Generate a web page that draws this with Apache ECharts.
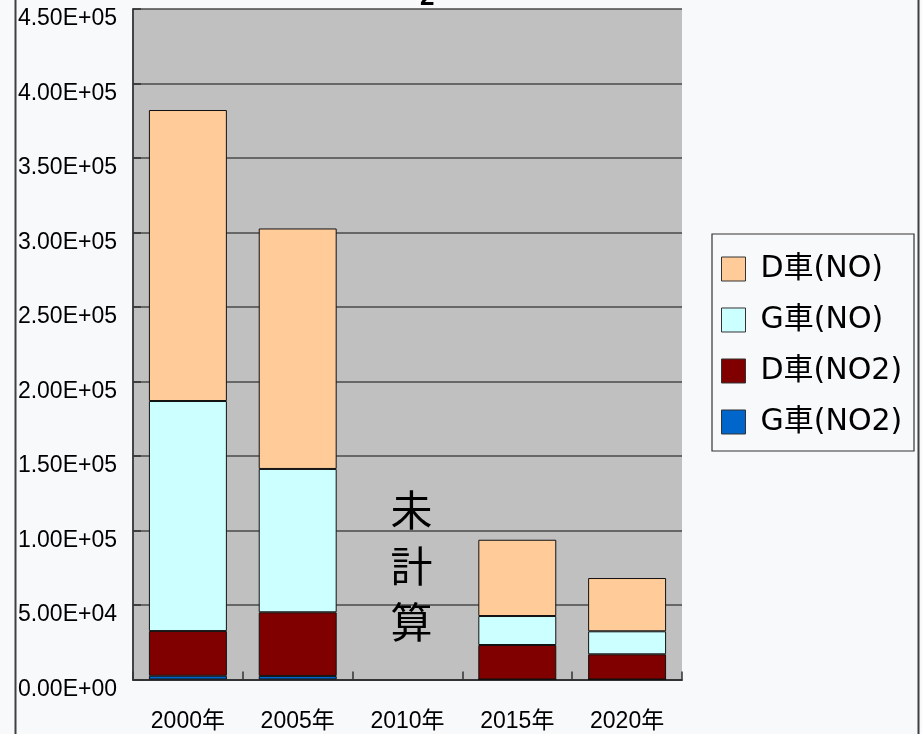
<!DOCTYPE html>
<html>
<head>
<meta charset="utf-8">
<script src="https://cdn.jsdelivr.net/npm/echarts@6/dist/echarts.min.js"></script>
<style>
  html, body { margin: 0; padding: 0; background: #f8f9fb; }
  #chart { width: 922px; height: 734px; }
</style>
</head>
<body>
<div id="chart"></div>
<script>
// Years on the category axis
const years = ['2000年', '2005年', '2010年', '2015年', '2020年'];

// Emissions per vehicle type and species (2010 not calculated)
const gNO2 = [2500, 2400, null, 0, 0];
const dNO2 = [30000, 42700, null, 23150, 16900];
const gNO = [154400, 96200, null, 19450, 15450];
const dNO = [195300, 161400, null, 51200, 35750];

const seriesNames = ['G車(NO2)', 'D車(NO2)', 'G車(NO)', 'D車(NO)'];
const seriesColors = ['#0066cc', '#800000', '#ccffff', '#ffcc99'];
const legendOrder = ['D車(NO)', 'G車(NO)', 'D車(NO2)', 'G車(NO2)'];

const noteText = '未\n計\n算';
const noteCategory = '2010年';
const noteValue = 76000;

const CJK = '"Noto Sans CJK JP", sans-serif';
const LATIN = '"Liberation Sans", ' + CJK;
const WIDE = '"DejaVu Sans", ' + CJK;

function sci(v) {
  if (v === 0) return '0.00E+00';
  const exp = Math.floor(Math.log10(Math.abs(v)));
  const mant = v / Math.pow(10, exp);
  const e = (exp < 0 ? '-' : '+') + String(Math.abs(exp)).padStart(2, '0');
  return mant.toFixed(2) + 'E' + e;
}

const values = [gNO2, dNO2, gNO, dNO];
const series = values.map((data, i) => ({
  name: seriesNames[i],
  type: 'bar',
  stack: 'total',
  data: data,
  barWidth: '71%',
  itemStyle: { color: seriesColors[i], borderColor: '#111', borderWidth: 1 },
  emphasis: { disabled: true }
}));

series[0].markPoint = {
  symbol: 'circle',
  symbolSize: 0,
  silent: true,
  data: [{ coord: [noteCategory, noteValue] }],
  label: {
    show: true,
    position: 'inside',
    offset: [4, 0],
    formatter: noteText,
    fontSize: 42,
    lineHeight: 56,
    color: '#000',
    fontFamily: CJK
  }
};

const chart = echarts.init(document.getElementById('chart'));
chart.setOption({
  backgroundColor: '#f8f9fb',
  animation: false,
  grid: {
    left: 133, top: 9, right: 240, bottom: 54.5,
    show: true, backgroundColor: '#c0c0c0', borderWidth: 0
  },
  legend: {
    data: legendOrder,
    orient: 'vertical',
    left: 721,
    top: 254,
    itemWidth: 24,
    itemHeight: 24,
    itemGap: 21,
    icon: 'rect',
    padding: 0,
    itemStyle: { borderColor: '#333', borderWidth: 1 },
    textStyle: {
      fontSize: 30, lineHeight: 29, color: '#000', fontFamily: WIDE,
      padding: [0, 0, 0, 10]
    },
    selectedMode: false
  },
  xAxis: {
    type: 'category',
    data: years,
    axisLine: { lineStyle: { color: '#333', width: 2 } },
    axisTick: { show: true, inside: true, length: 8, lineStyle: { color: '#333', width: 1.5 } },
    axisLabel: { fontSize: 23, color: '#000', margin: 31, fontFamily: LATIN },
    splitLine: { show: false }
  },
  yAxis: {
    type: 'value',
    min: 0,
    max: 450000,
    interval: 50000,
    axisLine: { show: true, lineStyle: { color: '#444', width: 2 } },
    axisTick: { show: true, inside: true, length: 8, lineStyle: { color: '#333', width: 1.5 } },
    axisLabel: {
      color: '#000', margin: 16,
      formatter: v => '{t|' + sci(v) + '}',
      rich: {
        t: { fontSize: 23, fontFamily: LATIN, color: '#000', padding: [20, 0, 0, 0] }
      }
    },
    splitLine: { show: true, lineStyle: { color: '#4a4a4a', width: 1.5 } }
  },
  graphic: [
    {
      type: 'rect',
      left: 13, top: -10,
      shape: { width: 903, height: 760 },
      style: { fill: 'none', stroke: '#404040', lineWidth: 2 },
      silent: true, z: 100
    },
    {
      type: 'rect',
      shape: { x: 712, y: 234, width: 202, height: 217 },
      style: { fill: '#f8f9fb', stroke: '#333', lineWidth: 1.2 },
      silent: true, z: -1
    },
    {
      type: 'text',
      x: 418, y: 0,
      style: {
        text: 'NO, NO', font: 'bold 36px ' + LATIN, fill: '#000',
        align: 'right', verticalAlign: 'bottom'
      },
      silent: true
    },
    {
      type: 'text',
      x: 420, y: 11,
      style: {
        text: '2', font: 'bold 26px ' + LATIN, fill: '#000',
        align: 'left', verticalAlign: 'bottom'
      },
      silent: true
    }
  ],
  series: series
});
</script>
</body>
</html>
